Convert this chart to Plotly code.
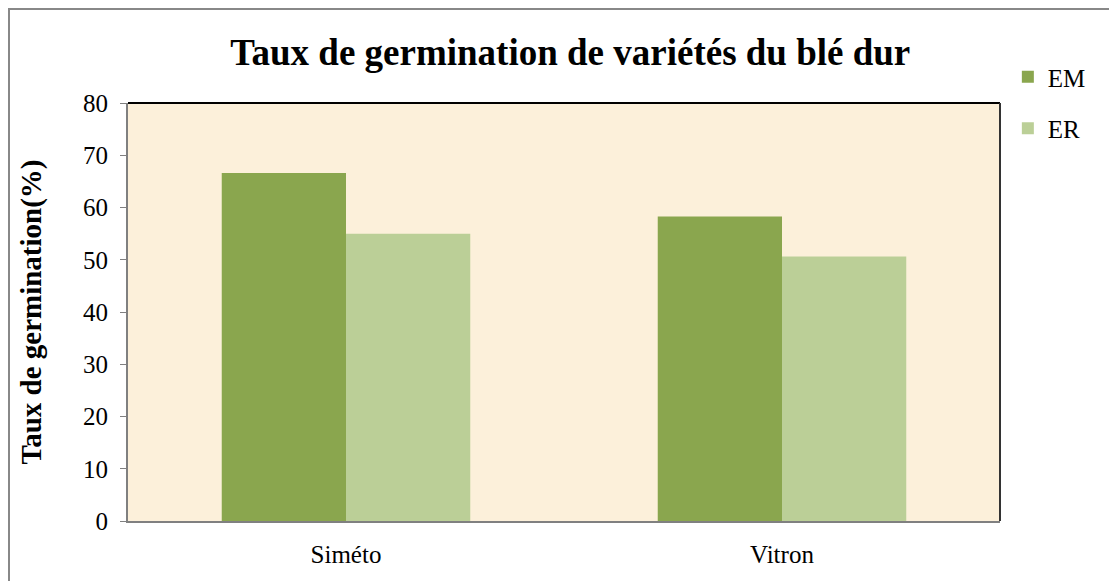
import plotly.graph_objects as go

# Data
varietes = ['Siméto', 'Vitron']
em = [66.6, 58.3]
er = [55.0, 50.6]

serif = 'Liberation Serif, Times New Roman, serif'

fig = go.Figure()
fig.add_trace(go.Bar(name='EM', x=varietes, y=em, marker_color='#8AA64E',
                     marker_line_width=0, legendgroup='em'))
fig.add_trace(go.Bar(name='ER', x=varietes, y=er, marker_color='#BBCF97',
                     marker_line_width=0, legendgroup='er'))

# the page body adds 8px, so the figure is 8px smaller on each side
fig.update_layout(
    width=1109, height=573,
    barmode='group', bargap=0.43, bargroupgap=0,
    paper_bgcolor='white',
    plot_bgcolor='#FCF0DA',
    margin={'l': 120, 'r': 117, 't': 95, 'b': 60},
    font={'family': serif, 'size': 25, 'color': 'black'},
    title={'text': '<b>Taux de germination de variétés du blé dur</b>',
           'x': 0.507, 'xanchor': 'center', 'y': 0.923, 'yanchor': 'middle',
           'font': {'size': 37, 'family': serif}},
    legend={'x': 1.009, 'y': 1.117, 'xanchor': 'left', 'yanchor': 'top',
            'traceorder': 'grouped', 'tracegroupgap': 16,
            'font': {'size': 25, 'family': serif}, 'bgcolor': 'rgba(0,0,0,0)'},
    xaxis={'showline': True, 'linecolor': '#808080', 'linewidth': 2,
           'ticks': '', 'tickfont': {'size': 25}, 'ticklabelstandoff': 10},
    yaxis={'range': [0, 80], 'dtick': 10, 'showgrid': False, 'zeroline': False,
           'showline': True, 'linecolor': '#808080', 'linewidth': 2,
           'ticks': 'outside', 'ticklen': 6, 'tickcolor': '#808080',
           'tickfont': {'size': 25}, 'ticklabelstandoff': 7,
           'title': {'text': '<b>Taux de germination(%)</b>', 'standoff': 33,
                     'font': {'size': 29}}},
    shapes=[
        # top and right frame lines of the plot area
        {'type': 'line', 'xref': 'paper', 'yref': 'paper', 'x0': 0, 'x1': 1,
         'y0': 1, 'y1': 1, 'line': {'color': 'black', 'width': 2}},
        {'type': 'line', 'xref': 'paper', 'yref': 'paper', 'x0': 1, 'x1': 1,
         'y0': 0, 'y1': 1, 'line': {'color': '#333333', 'width': 2}},
        # outer chart border
        {'type': 'rect', 'xref': 'paper', 'yref': 'paper',
         'x0': -119 / 872, 'x1': 1 + 300 / 872,
         'y0': -200 / 418, 'y1': 1 + 94 / 418,
         'line': {'color': '#888888', 'width': 2}},
    ],
)

fig.write_html('out.html')
